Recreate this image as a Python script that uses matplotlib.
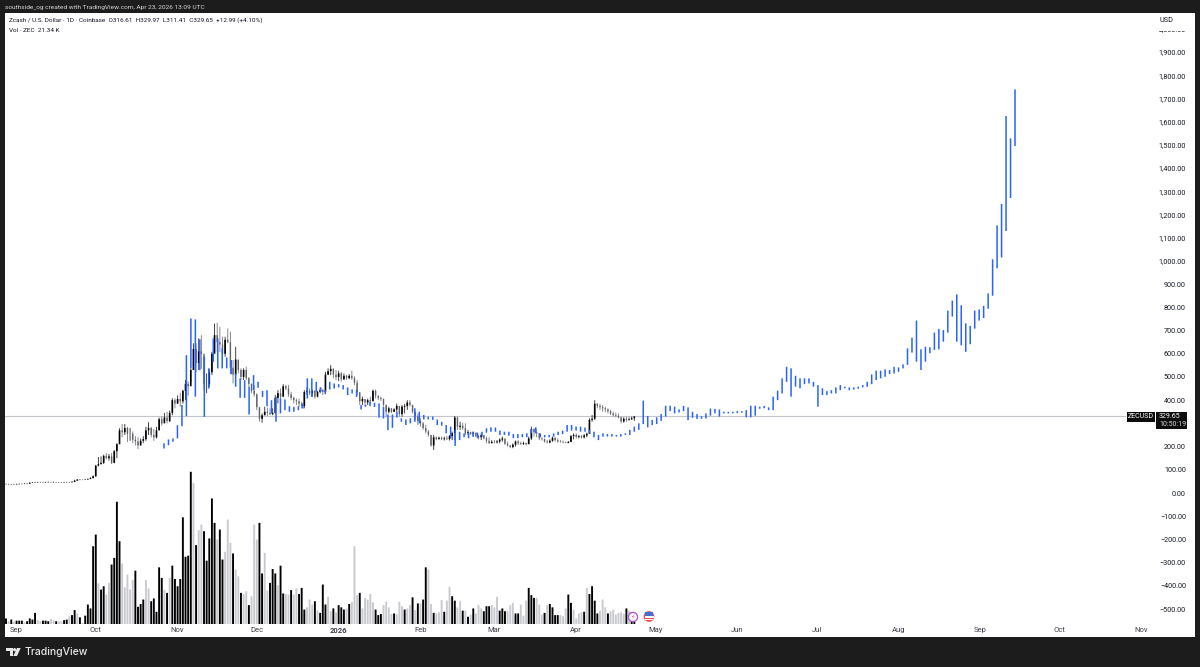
import numpy as np
import matplotlib
matplotlib.use('Agg')
import matplotlib.pyplot as plt
from matplotlib.patches import Circle, Polygon, Rectangle
from matplotlib.transforms import IdentityTransform

plt.rcParams['font.family'] = ['Roboto', 'DejaVu Sans']

# daily ZEC candles, Aug 28 2025 - Apr 23 2026
highs = [40,40,39,39,40,41,41,42,43,46,
         47,48,48,48,48,48,49,48,49,48,
         48,48,48,48,48,51,57,60,60,59,
         60,63,68,76,121,155,158,165,172,168,
         172,185,215,279,297,297,285,280,265,245,
         240,235,245,285,305,285,275,285,325,330,
         345,350,355,408,408,420,432,445,487,480,
         537,645,645,666,680,587,515,535,608,730,
         733,716,673,673,709,695,573,630,573,537,
         537,544,500,472,465,430,343,343,372,368,
         365,365,422,443,450,469,465,465,436,415,
         407,407,393,443,455,450,446,443,440,455,
         446,522,537,551,537,530,527,522,515,508,
         512,527,503,487,422,415,403,407,415,446,
         446,415,415,407,379,372,365,365,385,365,
         379,384,400,400,372,350,343,322,307,293,
         272,250,250,243,243,243,243,246,250,264,
         332,329,307,303,300,272,264,264,260,250,
         257,246,243,240,228,228,228,235,243,231,
         221,207,214,226,228,221,221,217,243,286,
         279,274,250,240,235,228,231,243,240,235,
         228,226,221,224,250,257,257,250,250,254,
         260,322,336,400,386,384,379,372,365,358,
         350,346,343,329,326,329,326,329,330]
lows = [36,36,35,35,36,37,37,38,38,40,
        43,43,44,44,43,44,45,44,45,44,
        44,43,44,44,44,46,47,54,55,55,
        56,57,60,64,70,115,122,125,145,140,
        125,128,150,214,240,250,220,225,215,205,
        190,205,215,225,250,240,225,235,270,290,
        305,300,305,335,365,385,372,385,400,420,
        480,544,520,530,535,444,430,458,508,608,
        608,608,587,587,645,512,472,515,515,487,
        487,487,458,430,415,357,307,303,335,332,
        335,335,343,386,400,415,443,415,400,386,
        379,372,365,365,422,422,415,407,412,430,
        422,430,508,508,494,487,482,480,487,487,
        490,487,465,422,379,379,372,379,383,400,
        407,400,397,372,328,343,345,350,350,329,
        329,343,358,372,343,315,293,286,272,257,
        243,200,186,228,231,228,226,228,226,228,
        228,272,272,272,250,250,250,243,240,231,
        228,231,214,211,214,214,214,214,221,207,
        200,193,193,200,207,207,207,205,214,228,
        243,240,228,226,217,214,214,221,221,217,
        217,214,214,214,221,231,235,235,235,235,
        240,257,307,315,365,358,350,348,343,336,
        329,326,322,300,303,307,312,315,311]
closes = [38,38,37,37,38,39,39,40,40,44,
          45,45,46,46,45,46,47,46,47,46,
          46,45,46,46,46,48,53,58,58,57,
          58,60,64,72,118,125,130,160,150,158,
          130,180,210,270,262,280,255,255,230,222,
          205,225,232,270,280,250,240,270,318,300,
          325,310,345,400,385,405,395,440,470,460,
          530,620,560,610,600,470,470,520,600,680,
          650,640,600,660,650,540,510,575,530,500,
          530,495,470,440,425,370,320,335,350,345,
          340,345,410,430,415,460,450,425,410,400,
          395,385,375,435,440,430,440,415,435,445,
          435,510,525,535,510,500,515,490,505,495,
          505,495,475,435,395,405,390,400,395,440,
          420,410,405,380,350,365,350,360,375,340,
          372,375,390,380,350,330,310,300,280,265,
          250,205,240,232,238,232,235,232,245,258,
          325,285,290,280,258,262,255,260,245,240,
          250,235,225,215,220,218,222,230,235,212,
          205,198,208,222,215,212,215,210,235,275,
          262,258,235,232,222,218,225,238,228,222,
          220,218,216,220,245,250,242,245,240,248,
          255,315,320,385,375,370,365,360,352,342,
          335,332,326,308,320,315,318,322,329.65]

# volume in thousands, k = dark bar, g = light bar
volume = [10,5,8,4,6,6,6,3,5,10,
          8,20,7,5,6,6,5,9,7,5,
          5,5,7,8,14,16,25,19,12,2,
          15,35,28,140,161,73,62,68,53,74,
          107,119,220,149,109,66,89,62,79,96,
          31,36,44,79,64,41,46,22,102,83,
          61,56,83,105,81,68,81,192,121,123,
          274,254,142,169,179,167,114,154,226,182,
          152,170,116,130,188,146,127,98,86,56,
          54,59,34,50,179,152,182,91,128,60,
          74,99,91,70,105,55,54,53,61,53,
          64,54,65,26,30,44,35,41,24,20,
          71,35,49,23,28,21,34,30,26,28,
          36,40,140,52,56,28,47,44,54,39,
          26,16,18,34,40,30,18,19,18,40,
          32,26,28,34,48,25,37,37,44,102,
          98,36,20,19,21,43,22,42,67,50,
          42,30,41,24,24,13,17,28,19,34,
          28,23,32,32,34,30,49,24,28,23,
          23,34,38,19,19,35,15,42,65,52,
          47,47,35,17,20,34,36,30,16,16,
          16,14,28,53,38,26,10,19,21,22,
          65,54,68,42,19,24,44,30,19,23,
          26,17,20,21,19,28,24,21.34,21]
volume_tone = ('kgkgkkkgkk' 'kkggkkkggk' 'ggkkgkkgkg' 'kkkkkgkkgg'
               'kkkkgggggk' 'kkkggkkkkk' 'gkgkkkkkkk' 'kgkggkkkkk'
               'gkkgggkggk' 'ggkgggkkgg' 'kkkgkkgg' 'kgg' 'kkk' 'ggg'
               'kgkkkggkgk' 'kkgkgggkggg' 'ggkkkggg' 'gkggg' 'kggk'
               'gkgkkggkgg' 'gkggkkggkg' 'kgkgg' 'gkkkgg' 'gkkkgg'
               'gkkgggkkkg' 'ggkgkkkkgg' 'gkkgggg' 'kgkkkkgg' 'gkgggggg'
               'kgkkkkkk')

# the blue overlay path, bar by bar
blue_high = [214,231,235,292,379,594,752,748,662,587,
             537,666,666,623,584,573,515,494,486,458,
             508,479,440,443,400,415,407,403,374,371,
             374,386,494,494,479,455,443,479,472,469,
             465,455,446,443,379,379,393,389,386,371,
             338,338,350,322,317,322,365,350,336,329,
             329,317,307,293,286,272,264,257,260,264,
             260,264,279,283,282,269,264,264,254,254,
             254,257,274,283,257,250,250,257,264,269,
             293,293,286,286,282,272,264,250,257,254,
             254,250,254,257,272,286,300,398,332,315,
             326,340,376,376,372,360,375,369,350,340,
             331,343,364,362,360,350,350,350,353,353,
             357,376,376,372,375,369,415,441,494,544,
             537,505,494,494,494,479,465,451,439,443,
             455,465,458,455,455,458,465,479,511,527,
             527,533,530,544,541,554,623,669,743,619,
             630,628,691,707,702,786,829,856,809,731,
             720,786,791,806,860,1007,1153,1245,1624,1528,
             1739]
blue_low = [192,206,221,235,288,331,537,415,529,328,
            450,565,537,537,537,512,458,410,410,338,
            443,453,414,374,343,307,343,357,350,350,
            357,364,407,414,436,436,426,446,450,455,
            446,422,429,414,360,372,374,371,325,321,
            271,281,325,307,293,300,307,300,317,317,
            315,293,290,257,236,203,228,240,236,243,
            236,243,260,264,264,250,250,247,236,236,
            240,240,257,257,240,240,240,243,250,254,
            264,269,269,264,264,257,240,228,243,243,
            243,243,243,250,250,264,272,297,283,293,
            297,311,329,353,343,347,353,314,324,319,
            320,321,333,343,329,343,343,343,344,346,
            326,326,333,363,365,357,357,400,429,479,
            415,458,451,469,472,458,372,422,422,429,
            429,443,451,443,446,449,455,458,469,487,
            494,501,512,515,522,537,552,605,566,530,
            566,602,616,619,652,691,760,652,636,608,
            641,708,743,754,794,850,968,1015,1129,1271,
            1495]

month_ticks = [4, 34, 65, 95, 126, 157, 185, 216, 246, 277, 307, 338, 369, 399, 430]
month_labels = ['Sep', 'Oct', 'Nov', 'Dec', '2026', 'Feb', 'Mar', 'Apr', 'May',
                'Jun', 'Jul', 'Aug', 'Sep', 'Oct', 'Nov']
# 300 sits behind the last price tag, so it is left out
price_ticks = [v for v in range(-500, 2001, 100) if v != 300]
last_price = 329.65

DARK = '#1c1c1c'
BLUE = '#2962ff'
INK = '#131722'
W, H = 1200, 667


def box(x0, y0, x1, y1):
    # figure rectangle from pixel edges, y counted from the top
    return [x0 / W, 1 - y1 / H, (x1 - x0) / W, (y1 - y0) / H]


def px(x, y):
    return (x, H - y)


def pixel_patch(patch):
    patch.set_transform(IdentityTransform())
    fig.add_artist(patch)


fig = plt.figure(figsize=(12, 6.67), dpi=100, facecolor=DARK)

# volume pane sits under the price pane
ax_vol = fig.add_axes(box(5, 468, 1195, 624))
ax = fig.add_axes(box(5, 13, 1195, 637))
ax.patch.set_alpha(0)
ax_vol.set_facecolor('white')
fig.patches.append(Rectangle((5 / W, 1 - 637 / H), 1190 / W, 624 / H,
                             transform=fig.transFigure, facecolor='white',
                             edgecolor='none', zorder=-1))

days = np.arange(len(closes))
opens = np.array([closes[0]] + closes[:-1])
closes_a = np.array(closes)
up = closes_a >= opens

# volume bars
vol_colors = ['#000000' if t == 'k' else '#c8cad0' for t in volume_tone]
vol_days = np.arange(len(volume))
bars = ax_vol.bar(vol_days, volume, width=0.72, color=vol_colors[:len(volume)], linewidth=0)
for b in bars:
    b.set_snap(False)
ax_vol.set_ylim(0, 156 * 1.8)

# candles: thin wick, thicker body
ax.axhline(last_price, xmin=0, xmax=1120 / 1190, color='#c4c6cc', lw=0.8, zorder=1)
wicks = ax.vlines(days, lows, highs, colors=['#333333' if u else '#7d7f86' for u in up],
                  linewidth=0.65, zorder=2)
body_lo = np.minimum(opens, closes_a)
body_hi = np.maximum(opens, closes_a)
up_bodies = ax.vlines(days[up], body_lo[up], body_hi[up], colors='black', linewidth=1.2, zorder=3)
down_bodies = ax.vlines(days[~up], body_lo[~up], body_hi[~up], colors='#5f6168', linewidth=1.0, zorder=3)

# blue path on top
blue_x = np.linspace(59.85, 382.2, len(blue_high))
blue_lines = ax.vlines(blue_x, blue_low, blue_high, colors=BLUE, linewidth=1.1, zorder=4)
for coll in (wicks, up_bodies, down_bodies, blue_lines):
    coll.set_snap(False)

for a in (ax, ax_vol):
    a.set_xlim((5 - 6) / 2.64, (1195 - 6) / 2.64)
    for s in a.spines.values():
        s.set_visible(False)
ax_vol.set_xticks([])
ax_vol.set_yticks([])

ax.set_ylim((493 - 637) / 0.2321, (493 - 13) / 0.2321)
ax.set_yticks(price_ticks)
ax.set_yticklabels([f'{v:,.2f}'.replace('-', '\u2212') for v in price_ticks],
                   ha='right', fontsize=5.2, color=INK)
ax.yaxis.tick_right()
ax.tick_params(axis='y', length=0, pad=-6.5)
ax.set_xticks(month_ticks)
ax.set_xticklabels(month_labels, fontsize=5.5, color='#3c3f49')
ax.get_xticklabels()[4].set_fontweight('bold')
ax.tick_params(axis='x', length=0, pad=-7.2)

# USD box hides the clipped top label
pixel_patch(Rectangle(px(1149, 30.5), 46, 17.5, facecolor='white', edgecolor='none', zorder=6))
fig.text(1160 / W, 1 - 21 / H, 'USD', fontsize=5.2, color=INK, va='center', zorder=7)

# last price tags
pixel_patch(Rectangle(px(1127, 422), 28, 10, facecolor='#0c0c0c', edgecolor='none', zorder=6))
pixel_patch(Rectangle(px(1156, 429), 31, 17, facecolor='#0c0c0c', edgecolor='none', zorder=6))
fig.text(1141 / W, 1 - 417 / H, 'ZECUSD', fontsize=5, color='white', ha='center', va='center', zorder=7)
fig.text(1159 / W, 1 - 416.5 / H, '329.65', fontsize=5, color='white', va='center', zorder=7)
fig.text(1159 / W, 1 - 424.5 / H, '10:50:19', fontsize=5, color='#d8d8d8', va='center', zorder=7)

# header and legend text
fig.text(5 / W, 1 - 7 / H, 'southside_og created with TradingView.com, Apr 23, 2026 13:09 UTC',
         fontsize=4.65, color='#d6d6d6', va='center')
fig.text(9 / W, 1 - 20.5 / H,
         'Zcash / U.S. Dollar \u00b7 1D \u00b7 Coinbase  O316.61  H329.97  L311.41  C329.65  +12.99 (+4.10%)',
         fontsize=4.55, color=INK, va='center')
fig.text(9 / W, 1 - 30 / H, 'Vol \u00b7 ZEC  21.34 K', fontsize=4.55, color=INK, va='center')

# event icons on the time axis
pixel_patch(Circle(px(633, 617), 4.6, facecolor='white', edgecolor='#b14fd8', linewidth=0.9, zorder=6))
fig.text(633 / W, 1 - 617 / H, '\u26a1', fontsize=4.5, color='#b14fd8', ha='center', va='center',
         family='DejaVu Sans', zorder=7)
pixel_patch(Circle(px(649, 616.5), 5.4, facecolor='#ef5350', edgecolor='none', zorder=6))
pixel_patch(Rectangle(px(644.5, 617.5), 9, 1.2, facecolor='white', edgecolor='none', zorder=7))
pixel_patch(Rectangle(px(645, 620), 8, 1.2, facecolor='white', edgecolor='none', zorder=7))
pixel_patch(Rectangle(px(645, 615.5), 8, 3.2, facecolor='#3f6fd8', edgecolor='none', zorder=7))

# TradingView footer logo
pixel_patch(Polygon([px(6, 648), px(12.5, 648), px(12.5, 656), px(9.5, 656), px(9.5, 651), px(6, 651)],
                    facecolor='#e8e8e8', edgecolor='none'))
pixel_patch(Circle(px(14.6, 649.7), 1.6, facecolor='#e8e8e8', edgecolor='none'))
pixel_patch(Polygon([px(17, 648), px(20.7, 648), px(17, 656), px(13.3, 656)],
                    facecolor='#e8e8e8', edgecolor='none'))
fig.text(24.5 / W, 1 - 652 / H, 'TradingView', fontsize=7.5, color='#e8e8e8', va='center',
         family=['Inter', 'DejaVu Sans'], fontweight='medium')

fig.savefig('out.png', dpi=100, facecolor=DARK)
